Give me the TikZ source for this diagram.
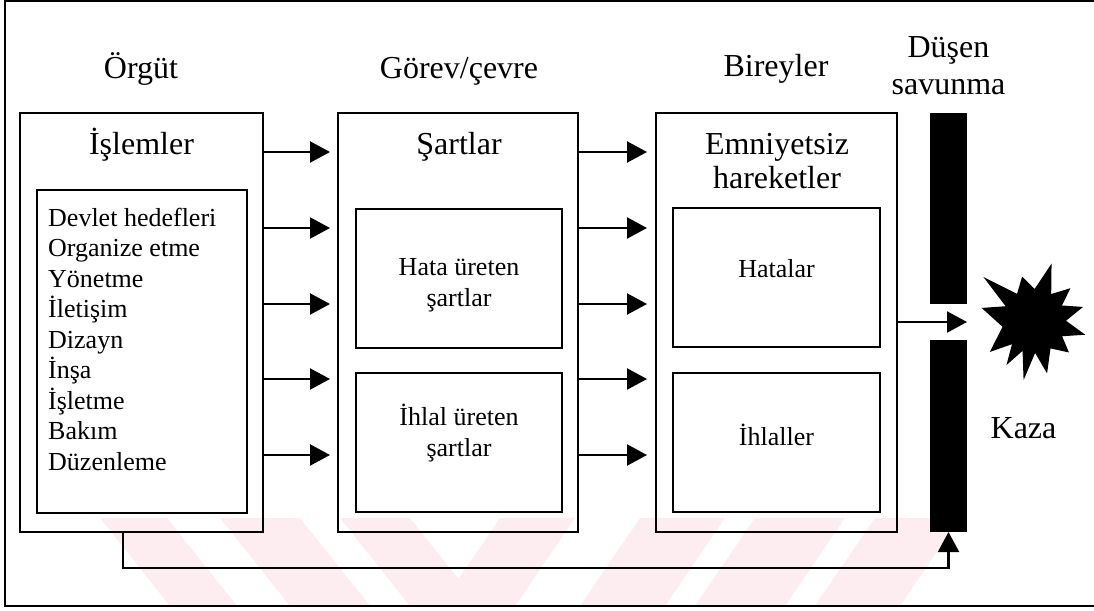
\documentclass[tikz,border=0pt]{standalone}
\usepackage{fontspec}
\setmainfont{Liberation Serif}
\usetikzlibrary{arrows.meta,calc}
\definecolor{wmpink}{RGB}{253,237,240}

\begin{document}
\begin{tikzpicture}[x=1pt,y=-1pt,
  frame/.style={draw, line width=2pt},
  box/.style={draw, line width=2pt, rectangle, inner sep=0pt, outer sep=0pt},
  barbox/.style={fill=black, rectangle, inner sep=0pt, outer sep=0pt, minimum width=37pt},
  big/.style={font=\fontsize{32}{34}\selectfont, inner sep=0pt, anchor=base},
  small/.style={font=\fontsize{26}{31}\selectfont, inner sep=0pt, anchor=base},
  arr/.style={line width=2.2pt, -{Triangle[length=20pt,width=21pt]}},
  stripe/.style={fill=wmpink}
]
\useasboundingbox (0,0) rectangle (1094,610);

% faint striped emblem along the lower edge
\begin{scope}
  \clip (60,518) rectangle (1012,606);
  \foreach \a/\b in {100/167, 220/300, 340/410}
    \fill[stripe] (\a,518) -- (\b,518) -- (\b+70,606) -- (\a+70,606) -- cycle;
  \foreach \a/\b in {500/575, 640/725, 755/845, 875/960}
    \fill[stripe] (\a,518) -- (\b,518) -- (\b-60,606) -- (\a-60,606) -- cycle;
\end{scope}

% outer frame
\draw[frame] (5,1) rectangle (1100,606);

% column headings
\node[big] (horg) at (141,78) {Örgüt};
\node[big] (hgor) at (459,78) {Görev/çevre};
\node[big] (hbir) at (776,77) {Bireyler};
\node[big] (hdus1) at (948.5,58) {Düşen};
\node[big] (hdus2) at (948.5,94) {savunma};

% organisation column
\node[box, minimum width=243pt, minimum height=419pt] (org) at (141.5,322.5) {};
\node[box, minimum width=210pt, minimum height=323pt] (orgin) at (142,351.5) {};
\node[big] (islem) at (141.5,154) {İşlemler};
\foreach \t [count=\i] in {Devlet hedefleri, Organize etme, Yönetme, İletişim,
    Dizayn, İnşa, İşletme, Bakım, Düzenleme}
  \node[small, anchor=base west] (l\i) at (48,{226+30.5*(\i-1)}) {\t};

% task / environment column
\node[box, minimum width=240pt, minimum height=419pt] (gorev) at (458,322.5) {};
\node[big] (sart) at (459,154) {Şartlar};
\node[box, minimum width=206pt, minimum height=139pt] (hataur) at (459,278.5) {};
\node[small] (hataur1) at (459,275) {Hata üreten};
\node[small] (hataur2) at (459,306) {şartlar};
\node[box, minimum width=206pt, minimum height=139pt] (ihlalur) at (459,442.5) {};
\node[small] (ihlalur1) at (459,425) {İhlal üreten};
\node[small] (ihlalur2) at (459,456) {şartlar};

% individuals column
\node[box, minimum width=241pt, minimum height=419pt] (birey) at (776.5,322.5) {};
\node[big] (emn1) at (777,154) {Emniyetsiz};
\node[big] (emn2) at (777,188) {hareketler};
\node[box, minimum width=207pt, minimum height=139pt] (hata) at (776.5,277.5) {};
\node[small] (hatat) at (776.5,277) {Hatalar};
\node[box, minimum width=207pt, minimum height=139pt] (ihlal) at (776.5,442.5) {};
\node[small] (ihlalt) at (776.5,445) {İhlaller};

% failed defences
\node[barbox, minimum height=191pt] (upbar) at (948.5,208.5) {};
\node[barbox, minimum height=192pt] (lowbar) at (948.5,436) {};
\coordinate (gap) at ($(upbar.south east)!0.5!(lowbar.north east)$);

% accident
\begin{scope}[shift={(1034,321)}]
  \fill (139:67pt) -- (122:32pt) -- (105:46pt) -- (89:32pt) -- (73:60pt)
    -- (57.5:32pt) -- (42:49pt) -- (29:32pt) -- (16:51pt) -- (0.5:32pt)
    -- (-15:53pt) -- (-28.5:32pt) -- (-42:47pt) -- (-59:32pt) -- (-76:54pt)
    -- (-88:32pt) -- (-100:60pt) -- (-111:32pt) -- (-122:52pt) -- (-133.5:32pt)
    -- (-145:54pt) -- (-169.5:32pt) -- (166:54pt) -- (152.5:32pt) -- cycle;
\end{scope}
\node[big] (kaza) at (1023.5,438) {Kaza};

% flows between columns
\foreach \y in {152,228,304,379,455} {
  \draw[arr, shorten >=8pt] (org.east |- 0,\y) -- (gorev.west |- 0,\y);
  \draw[arr, shorten >=9pt] (gorev.east |- 0,\y) -- (birey.west |- 0,\y);
}
\draw[arr] (birey.east |- gap) -- (gap);

% latent path from the organisation to the defences
\draw[arr] ([xshift=-18.5pt]org.south) -- ++(0,36) -| (lowbar.south);
\end{tikzpicture}
\end{document}
